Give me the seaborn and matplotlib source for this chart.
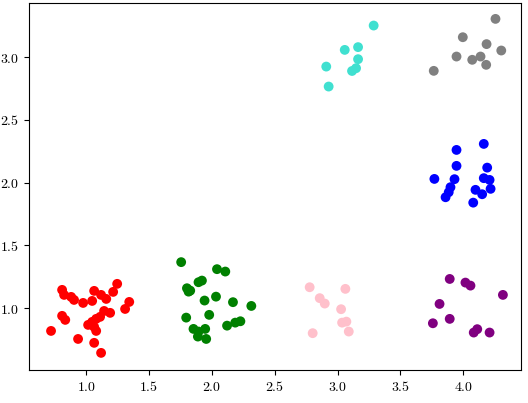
import matplotlib
matplotlib.use("Agg")
import matplotlib.pyplot as plt
from matplotlib.ticker import FuncFormatter
import seaborn as sns
import pandas as pd

# point positions, one cluster per colour
red_x = [0.721, 0.809, 0.825, 0.809, 0.834, 0.881, 0.904, 0.936, 0.976, 1.064,
         1.048, 1.119, 1.160, 1.143, 1.191, 1.111, 1.080, 1.048, 1.016, 1.064,
         1.080, 1.064, 1.119, 1.215, 1.247, 1.343, 1.310]
red_y = [0.819, 1.146, 1.106, 0.939, 0.907, 1.090, 1.066, 0.755, 1.042, 1.138,
         1.058, 1.106, 1.074, 0.978, 0.963, 0.931, 0.915, 0.891, 0.867, 0.851,
         0.819, 0.724, 0.644, 1.130, 1.194, 1.050, 0.994]

green_x = [1.756, 2.041, 2.107, 1.921, 1.894, 1.802, 1.828, 1.815, 1.942, 2.033,
           2.168, 2.314, 1.979, 1.796, 2.121, 2.186, 2.227, 1.854, 1.947, 1.894,
           1.889, 1.955]
green_y = [1.367, 1.311, 1.292, 1.220, 1.207, 1.159, 1.140, 1.132, 1.061, 1.092,
           1.048, 1.018, 0.947, 0.925, 0.861, 0.885, 0.896, 0.835, 0.835, 0.814,
           0.774, 0.755]

pink_x = [2.778, 3.062, 2.858, 2.898, 3.028, 3.036, 3.070, 3.089, 2.802]
pink_y = [1.167, 1.154, 1.080, 1.037, 0.992, 0.885, 0.893, 0.814, 0.801]

purple_x = [3.892, 4.017, 4.057, 4.315, 3.811, 3.892, 3.758, 4.111, 4.083, 4.209]
purple_y = [1.233, 1.204, 1.180, 1.106, 1.034, 0.915, 0.880, 0.833, 0.806, 0.806]

blue_x = [4.163, 3.946, 3.946, 4.190, 3.770, 3.930, 4.163, 4.209, 3.898, 3.884,
          3.859, 4.097, 4.150, 4.217, 4.079]
blue_y = [2.309, 2.261, 2.134, 2.120, 2.030, 2.028, 2.036, 2.022, 1.964, 1.924,
          1.884, 1.943, 1.908, 1.951, 1.841]

cyan_x = [3.287, 3.057, 3.163, 3.163, 2.910, 3.147, 3.115, 2.929]
cyan_y = [3.252, 3.058, 3.080, 2.984, 2.925, 2.912, 2.890, 2.766]

gray_x = [4.256, 3.996, 4.185, 4.302, 3.946, 4.071, 4.137, 4.182, 3.765]
gray_y = [3.305, 3.159, 3.104, 3.053, 3.005, 2.979, 3.005, 2.939, 2.891]

groups = {
    "red": (red_x, red_y),
    "green": (green_x, green_y),
    "pink": (pink_x, pink_y),
    "purple": (purple_x, purple_y),
    "blue": (blue_x, blue_y),
    "turquoise": (cyan_x, cyan_y),
    "gray": (gray_x, gray_y),
}

rows = []
for color, (xs, ys) in groups.items():
    rows += [(x, y, color) for x, y in zip(xs, ys)]
df = pd.DataFrame(rows, columns=["x", "y", "color"])

plt.rcParams["font.family"] = "serif"
plt.rcParams["mathtext.fontset"] = "cm"

fig, ax = plt.subplots(figsize=(5.28, 4.03), dpi=100)
fig.subplots_adjust(left=0.055, right=0.987, top=0.993, bottom=0.082)

sns.scatterplot(data=df, x="x", y="y", hue="color",
                palette={c: c for c in groups}, s=50, linewidth=0,
                alpha=1, legend=False, ax=ax)

ax.set_xlim(0.546, 4.46)
ax.set_ylim(0.508, 3.433)
ax.set_xlabel("")
ax.set_ylabel("")
fmt = FuncFormatter(lambda v, pos: f"${v:.1f}$")
ax.xaxis.set_major_formatter(fmt)
ax.yaxis.set_major_formatter(fmt)

fig.savefig("out.png")
